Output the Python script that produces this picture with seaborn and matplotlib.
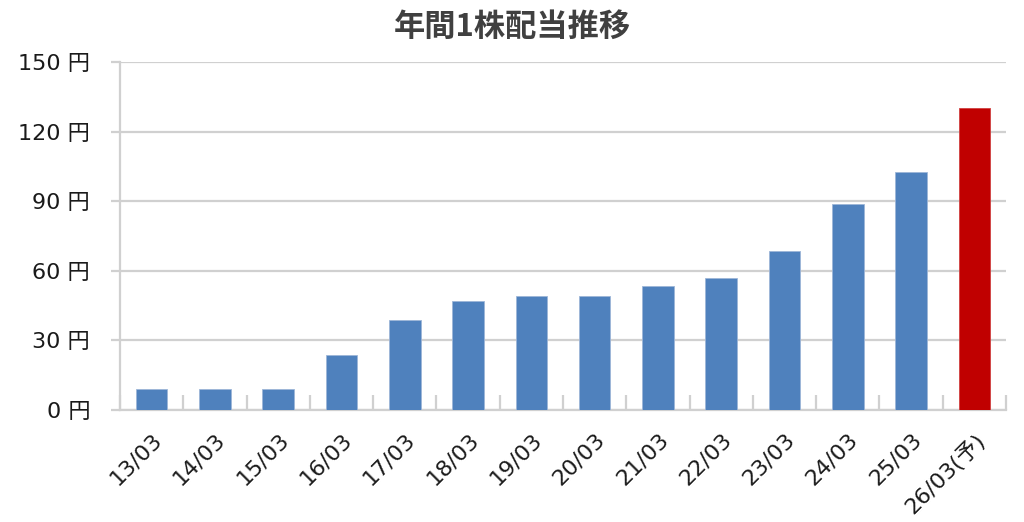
import matplotlib
matplotlib.use("Agg")
import matplotlib.pyplot as plt
import seaborn as sns
import pandas as pd
from matplotlib.ticker import FixedLocator, FuncFormatter

# Dividend per share by fiscal year (yen)
years = ["13/03", "14/03", "15/03", "16/03", "17/03", "18/03", "19/03",
         "20/03", "21/03", "22/03", "23/03", "24/03", "25/03", "26/03(予)"]
dividends = [9, 9, 9, 23.5, 39, 47, 49, 49, 53.5, 57, 68.5, 89, 102.5, 130]
bar_colors = ["#4F81BD"] * 13 + ["#C00000"]

sns.set_style("white")
plt.rcParams["font.family"] = ["DejaVu Sans", "Noto Sans CJK JP"]

df = pd.DataFrame({"year": years, "dividend": dividends})

fig = plt.figure(figsize=(10.24, 5.22), dpi=100)
ax = fig.add_axes([120 / 1024, 1 - 410 / 522, 886 / 1024, 348 / 522])

sns.barplot(data=df, x="year", y="dividend", hue="year", palette=bar_colors,
            legend=False, width=0.5, saturation=1, ax=ax, zorder=3,
            edgecolor="#9db6d8", linewidth=0.6)
ax.patches[-1].set_edgecolor("#d04040")

grid_c = "#d0d0d0"
ax.set_ylim(0, 150)
ax.set_xlim(-0.5, len(years) - 0.5)
ax.set_yticks(range(0, 151, 30))
ax.yaxis.set_major_formatter(FuncFormatter(lambda v, p: f"{int(v)} 円"))
ax.grid(axis="y", color=grid_c, linewidth=1.6, zorder=0)
ax.set_axisbelow(True)

for s in ["top", "right"]:
    ax.spines[s].set_visible(False)
for s in ["left", "bottom"]:
    ax.spines[s].set_color(grid_c)
    ax.spines[s].set_linewidth(1.6)

ax.tick_params(axis="y", left=True, length=6.5, width=1.6, color=grid_c,
               labelsize=16, labelcolor="#1a1a1a", pad=15)
ax.tick_params(axis="x", which="major", bottom=True, length=0, labelsize=16,
               labelcolor="#1a1a1a", pad=14)
ax.xaxis.set_minor_locator(FixedLocator([i - 0.5 for i in range(len(years) + 1)]))
ax.tick_params(axis="x", which="minor", bottom=True, direction="in", length=11,
               width=1.6, color=grid_c)

for lbl in ax.get_xticklabels():
    lbl.set_rotation(45)
    lbl.set_ha("right")
    lbl.set_rotation_mode("anchor")

ax.set_xlabel("")
ax.set_ylabel("")
fig.text(0.5, 1 - 27 / 522, "年間1株配当推移", ha="center", va="center",
         fontsize=22.5, fontweight="bold", color="#404040",
         family=["Noto Sans CJK JP", "DejaVu Sans"])

fig.savefig("out.png", dpi=100)
